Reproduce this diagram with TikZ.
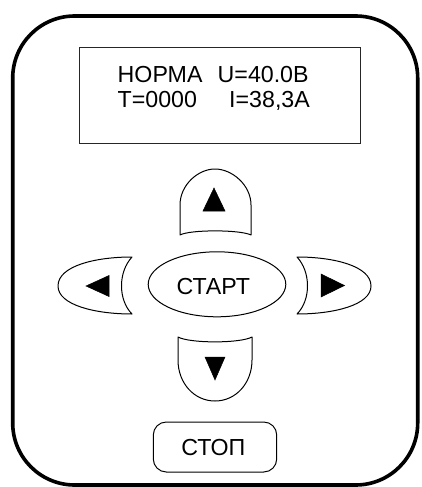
\documentclass[tikz,border=0pt]{standalone}
\usepackage{fontspec}
\setmainfont{Liberation Sans}
\usetikzlibrary{shapes.geometric}
\begin{document}
\begin{tikzpicture}[x=1pt,y=-1pt,
  txt/.style={inner sep=0pt,font=\fontsize{23.2}{27}\selectfont},
  btn/.style={draw=black,line width=1pt,line join=round},
  tri/.style={fill=black,draw=black,line width=0.5pt,line join=miter}]
\useasboundingbox (0,0) rectangle (421,487);
% case
\draw[line width=3.6pt,rounded corners=62pt] (12.7,16) rectangle (417.7,485);
% display
\draw[line width=1.5pt,draw=black!85] (79.3,47.3) rectangle (360.7,143.3);
\node[txt,anchor=base west] (lcdA) at (117.5,82.3) {НОРМА};
\node[txt,anchor=base west] (lcdB) at (217.5,82.3) {U=40.0В};
\node[txt,anchor=base west] (lcdC) at (117.5,107.3) {Т=0000};
\node[txt,anchor=base west] (lcdD) at (229,107.3) {I=38,3А};
% up button
\draw[btn] (180,235) -- (180,205) .. controls (180,185) and (198,169) .. (215,169)
  .. controls (232,169) and (251,185) .. (251,205) -- (251,235)
  .. controls (240,229.5) and (190,229.5) .. (180,235) -- cycle;
\fill[tri] (214,188) -- (225,211) -- (203,211) -- cycle;
% down button
\draw[btn] (178,337) .. controls (190,343.5) and (240,343.5) .. (252,337) -- (252,360)
  .. controls (252,383) and (236,401) .. (215,401)
  .. controls (194,401) and (178,383) .. (178,360) -- cycle;
\fill[tri] (205,357) -- (225,357) -- (215,380) -- cycle;
% left button
\draw[btn] (132,257) .. controls (118,272) and (118,300) .. (132,314)
  .. controls (95,314) and (58,305) .. (58,286)
  .. controls (58,266) and (95,257) .. (132,257) -- cycle;
\fill[tri] (86,286) -- (109,275.5) -- (109,296.5) -- cycle;
% right button
\draw[btn] (297,257) .. controls (311,272) and (311,300) .. (297,314)
  .. controls (334,314) and (371,305) .. (371,286)
  .. controls (371,266) and (334,257) .. (297,257) -- cycle;
\fill[tri] (321,274) -- (344.5,285.5) -- (321,297) -- cycle;
% start
\draw[btn] (217,284.3) ellipse [x radius=68.8pt, y radius=32.5pt];
\node[txt,anchor=base] (start) at (213.3,294.3) {СТАРТ};
% stop
\draw[btn,rounded corners=13pt] (153.3,422) rectangle (276.7,472);
\node[txt,anchor=base] (stop) at (213.3,455.3) {СТОП};
\end{tikzpicture}
\end{document}
